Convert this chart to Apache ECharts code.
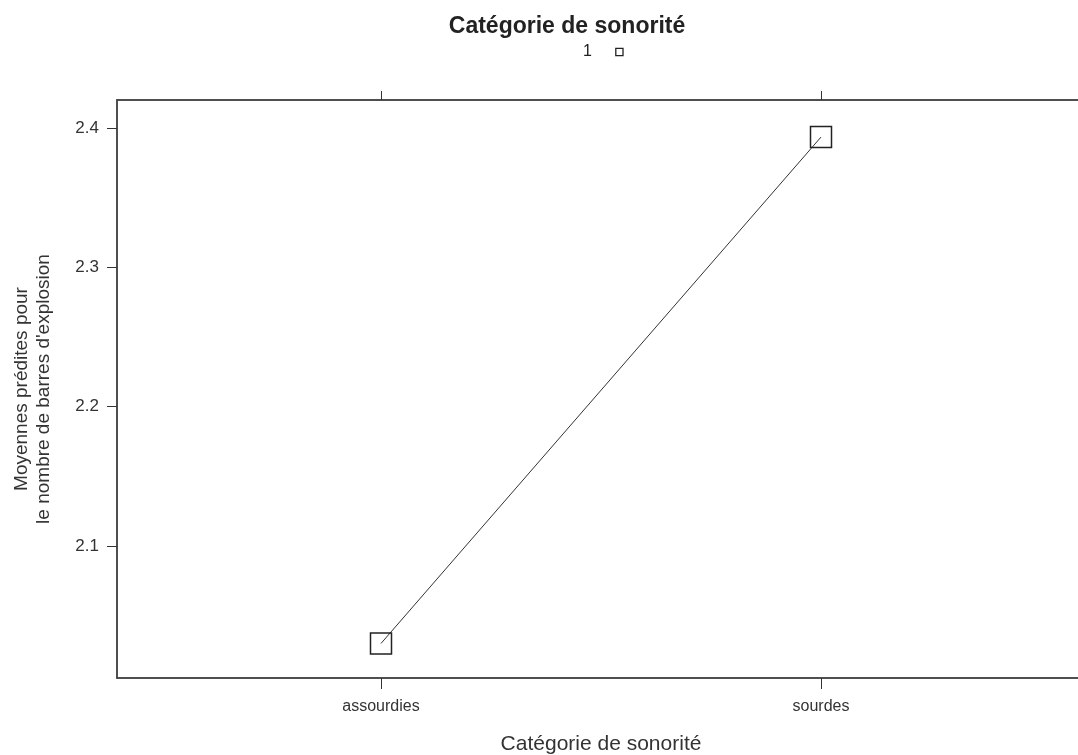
<!DOCTYPE html>
<html><head><meta charset="utf-8">
<script src="https://cdn.jsdelivr.net/npm/echarts@6/dist/echarts.min.js"></script>
<style>html,body{margin:0;padding:0;background:#fff}#c{width:1078px;height:755px}</style>
</head><body><div id="c"></div>
<script>
const categories = ['assourdies', 'sourdes'];
const values = [2.030, 2.3935];
const yTicks = [2.1, 2.2, 2.3, 2.4];
const seriesName = '1';

const chart = echarts.init(document.getElementById('c'));
const font = 'Liberation Sans, Arial, sans-serif';
chart.setOption({
  animation: false,
  backgroundColor: '#fff',
  title: {
    text: 'Catégorie de sonorité', left: 562, top: 10, textAlign: 'center',
    textStyle: {fontFamily: font, fontSize: 23, fontWeight: 'bold', color: '#222'}
  },
  legend: {
    data: [{name: seriesName}], left: 578, top: 39, align: 'right',
    itemWidth: 9, itemHeight: 9, itemGap: 10,
    textStyle: {fontFamily: font, fontSize: 16, color: '#222', padding: [0, 18, 0, 0]},
    itemStyle: {color: 'transparent', borderColor: '#222', borderWidth: 1.3},
    lineStyle: {opacity: 0}
  },
  grid: {left: 117, top: 100, bottom: 77, right: -7, outerBoundsMode: 'none', containLabel: false,
    show: true, borderColor: '#444', borderWidth: 1.5},
  xAxis: [{
    type: 'value', min: 0.4, max: 2.6, interval: 1,
    position: 'bottom',
    name: 'Catégorie de sonorité', nameLocation: 'middle', nameGap: 56,
    nameTextStyle: {fontFamily: font, fontSize: 21, color: '#333'},
    axisLine: {show: true, lineStyle: {color: '#444', width: 1.5}},
    axisTick: {show: true, length: 11, lineStyle: {color: '#333'}, customValues: [1, 2]},
    axisLabel: {customValues: [1, 2], margin: 21, fontFamily: font, fontSize: 16, color: '#333',
      formatter: v => categories[Math.round(v) - 1] || ''},
    splitLine: {show: false}
  }, {
    type: 'value', min: 0.4, max: 2.6, position: 'top',
    axisLine: {show: true, lineStyle: {color: '#444', width: 1.5}},
    axisTick: {show: true, length: 9, lineStyle: {color: '#333'}, customValues: [1, 2]},
    axisLabel: {show: false}, splitLine: {show: false}
  }],
  yAxis: [{
    type: 'value', min: 2.0052, max: 2.4201,
    name: 'Moyennes prédites pour\nle nombre de barres d\'explosion',
    nameLocation: 'middle', nameGap: 62, nameRotate: 90,
    nameTextStyle: {fontFamily: font, fontSize: 19, color: '#333', lineHeight: 22},
    axisLine: {show: true, lineStyle: {color: '#444', width: 1.5}},
    axisTick: {show: true, length: 10, lineStyle: {color: '#333'}, customValues: yTicks},
    axisLabel: {customValues: yTicks, margin: 18, fontFamily: font, fontSize: 17, color: '#333',
      formatter: v => v.toFixed(1)},
    splitLine: {show: false}
  }],
  series: [{
    name: seriesName, type: 'line',
    data: values.map((v, i) => [i + 1, v]),
    symbol: 'rect', symbolSize: 21,
    itemStyle: {color: 'transparent', borderColor: '#222', borderWidth: 1.5},
    lineStyle: {color: '#333', width: 1}
  }]
});
</script></body></html>
